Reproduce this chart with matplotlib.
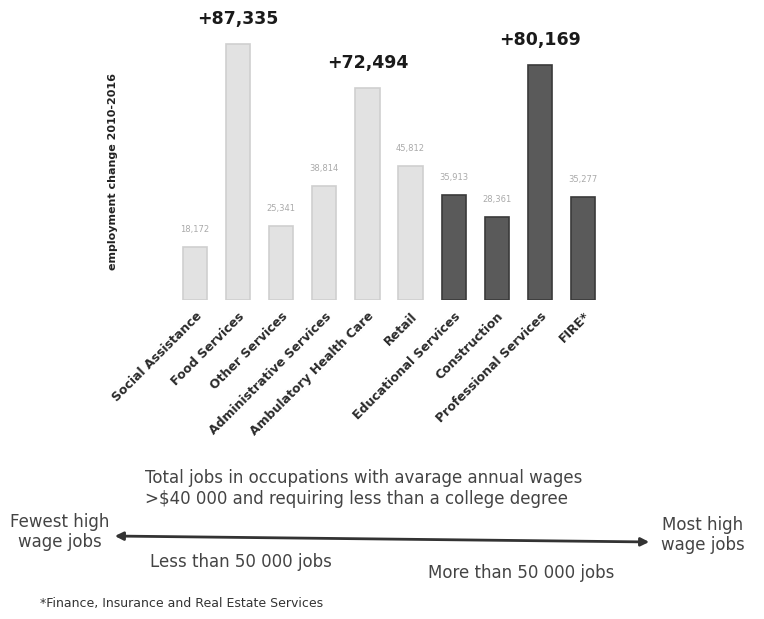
import matplotlib
matplotlib.use("Agg")
import matplotlib.pyplot as plt
import numpy as np

# sectors, ordered by number of high wage jobs
sectors = ["Social Assistance", "Food Services", "Other Services",
           "Administrative Services", "Ambulatory Health Care", "Retail",
           "Educational Services", "Construction", "Professional Services",
           "FIRE*"]
change = [18172, 87335, 25341, 38814, 72494, 45812, 35913, 28361, 80169, 35277]
value_labels = ["18,172", "+87,335", "25,341", "38,814", "+72,494", "45,812",
                "35,913", "28,361", "+80,169", "35,277"]
highlight = [False, True, False, False, True, False, False, False, True, False]
more_than_50k = [False, False, False, False, False, False, True, True, True, True]

fig = plt.figure(figsize=(7.64, 6.19), dpi=100)
W, H = 764.0, 619.0
ax = fig.add_axes([170 / W, 1 - 300 / H, 435 / W, 300 / H])

x = np.arange(len(sectors))
colors = ["#5a5a5a" if m else "#e2e2e2" for m in more_than_50k]
edges = ["#3a3a3a" if m else "#cfcfcf" for m in more_than_50k]
ax.bar(x, change, width=0.56, color=colors, edgecolor=edges, linewidth=1.2)

for i in range(len(sectors)):
    if highlight[i]:
        ax.text(x[i], change[i] + 5500, value_labels[i], ha="center", va="bottom",
                fontsize=12.5, fontweight="bold", color="#1a1a1a")
    else:
        ax.text(x[i], change[i] + 4500, value_labels[i], ha="center", va="bottom",
                fontsize=6, color="#aaaaaa")

ax.set_xlim(-0.58, 9.51)
ax.set_ylim(0, 102500)
ax.set_xticks(x)
ax.set_xticklabels(sectors, rotation=45, ha="right", rotation_mode="anchor",
                   fontsize=9, fontweight="bold", color="#2a2a2a")
ax.tick_params(axis="x", length=0, pad=7)
ax.set_yticks([])
for s in ax.spines.values():
    s.set_visible(False)

fig.text(113 / W, 1 - 172 / H, "employment change 2010-2016", rotation=90,
         ha="center", va="center", fontsize=8, fontweight="bold", color="#222222")

# wage scale underneath
fig.text(145 / W, 1 - 478 / H, "Total jobs in occupations with avarage annual wages",
         ha="left", va="center", fontsize=12, color="#444444")
fig.text(145 / W, 1 - 499 / H, ">$40 000 and requiring less than a college degree",
         ha="left", va="center", fontsize=12, color="#444444")
fig.text(60 / W, 1 - 532 / H, "Fewest high\nwage jobs", ha="center", va="center",
         fontsize=12, color="#444444", linespacing=1.1)
fig.text(703 / W, 1 - 535 / H, "Most high\nwage jobs", ha="center", va="center",
         fontsize=12, color="#444444", linespacing=1.1)
fig.text(150 / W, 1 - 562 / H, "Less than 50 000 jobs", ha="left", va="center",
         fontsize=12, color="#444444")
fig.text(428 / W, 1 - 573 / H, "More than 50 000 jobs", ha="left", va="center",
         fontsize=12, color="#444444")
fig.text(40 / W, 1 - 604 / H, "*Finance, Insurance and Real Estate Services",
         ha="left", va="center", fontsize=9, color="#333333")

fig.patches.append(matplotlib.patches.FancyArrowPatch(
    (112 / W, 1 - 536 / H), (652 / W, 1 - 542 / H), transform=fig.transFigure,
    arrowstyle="<|-|>", mutation_scale=12, color="#333333", linewidth=2))

fig.savefig("out.png", dpi=100)
